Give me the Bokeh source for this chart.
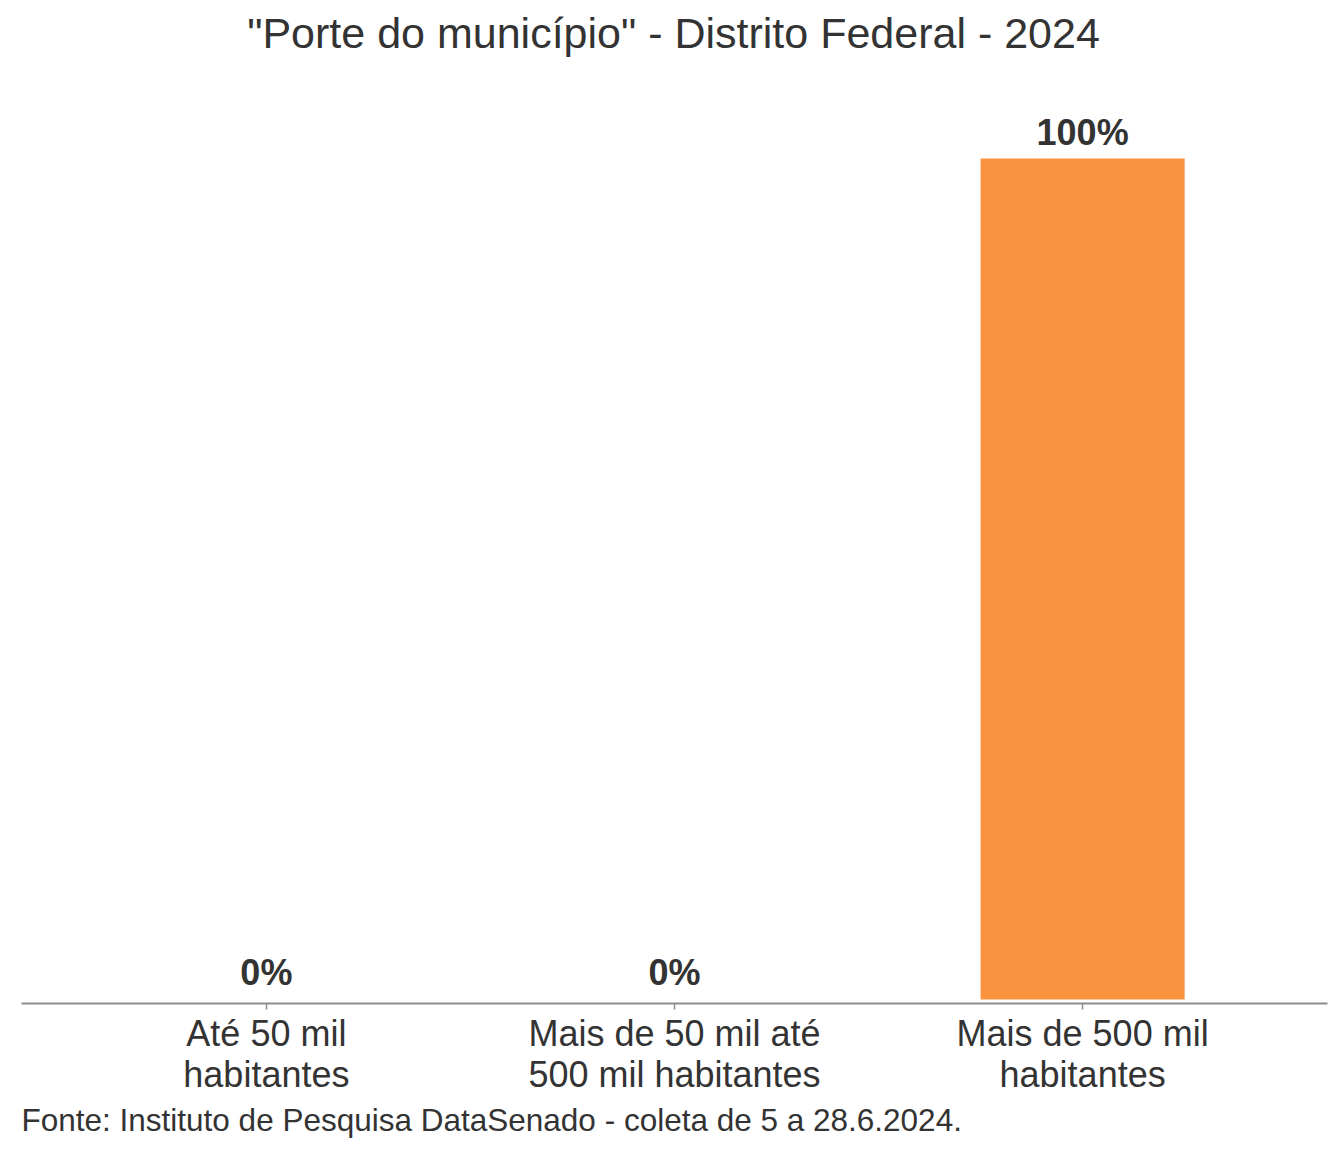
from bokeh.plotting import figure
from bokeh.models import ColumnDataSource, FactorRange, Range1d, LabelSet, Label, Title
from bokeh.core.properties import value
from bokeh.embed import file_html
from bokeh.resources import INLINE

categories = ["Até 50 mil\nhabitantes", "Mais de 50 mil até\n500 mil habitantes", "Mais de 500 mil\nhabitantes"]
values = [0, 0, 100]
labels = ["0%", "0%", "100%"]
title_text = '"Porte do município" - Distrito Federal - 2024'
source_text = "Fonte: Instituto de Pesquisa DataSenado - coleta de 5 a 28.6.2024."

src = ColumnDataSource(dict(cat=categories, val=values, lab=labels))

p = figure(width=1328, height=1144, output_backend="svg", toolbar_location=None,
           x_range=FactorRange(factors=categories, range_padding=0.0667),
           y_range=Range1d(-0.476, 118.8), min_border_left=21, min_border_right=1,
           min_border_top=0, min_border_bottom=141)

p.vbar(x="cat", top="val", bottom=0, width=0.5, source=src, color="#FA923F", line_color=None)

p.add_layout(LabelSet(x="cat", y="val", text="lab", source=src, text_align="center",
                      text_baseline="bottom", y_offset=6, text_font_size="36px",
                      text_font_style="bold", text_color="#333333",
                      text_font=value("Liberation Sans")))

p.add_layout(Label(x=652, y=971, x_units="screen", y_units="screen", text=title_text,
                   text_align="center", text_baseline="alphabetic", text_font_size="43px",
                   text_color="#333333", text_font="Liberation Sans"))

p.add_layout(Title(text=source_text, align="left", text_font_size="31.5px",
                   text_font_style="normal", text_color="#333333",
                   text_font="Liberation Sans", offset=0, standoff=5), "below")

p.yaxis.visible = False
p.xgrid.visible = False
p.ygrid.visible = False
p.outline_line_color = None
p.xaxis.axis_line_color = "#8c8c8c"
p.xaxis.axis_line_width = 2
p.xaxis.major_tick_line_color = "#8c8c8c"
p.xaxis.major_tick_line_width = 1.5
p.xaxis.major_tick_in = 0
p.xaxis.major_tick_out = 6
p.xaxis.major_label_standoff = 3
p.xaxis.major_label_text_font_size = "36px"
p.xaxis.major_label_text_font = "Liberation Sans"
p.xaxis.major_label_text_color = "#333333"
p.xaxis.major_label_text_line_height = 1.0

open("out.html", "w").write(file_html(p, INLINE))
